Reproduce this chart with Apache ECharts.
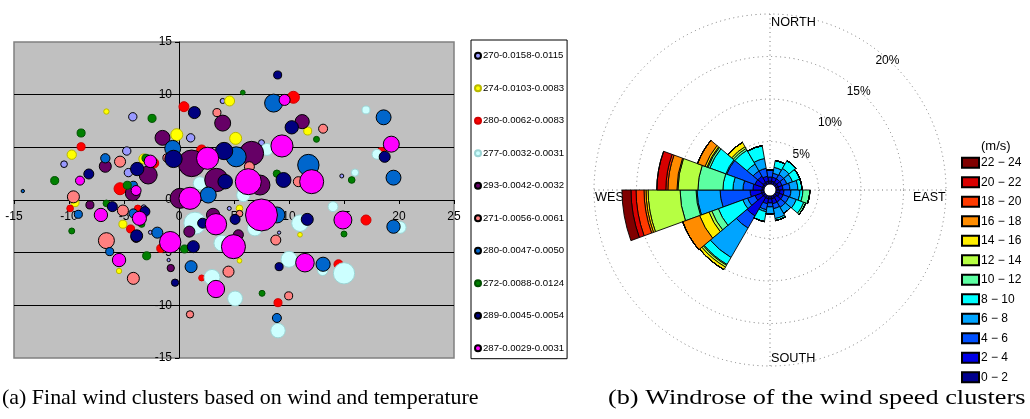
<!DOCTYPE html>
<html><head><meta charset="utf-8">
<script src="https://cdn.jsdelivr.net/npm/echarts@6/dist/echarts.min.js"></script>
<style>html,body{margin:0;padding:0;background:#fff}#c{width:1030px;height:419px}</style>
</head><body><div id="c"></div>
<script>
// ---------- (a) bubble chart data : [x, y, weight] ----------
const clusterNames = ['270-0.0158-0.0115','274-0.0103-0.0083','280-0.0062-0.0083','277-0.0032-0.0031','293-0.0042-0.0032',
  '271-0.0056-0.0061','280-0.0047-0.0050','272-0.0088-0.0124','289-0.0045-0.0054','287-0.0029-0.0031'];
const xTicks = [-15,-10,-5,0,5,10,15,20,25];
const yTicks = [-15,-10,-5,0,5,10,15];
const cluster1 = [[-4.2,7.9,6.3],[3.97,9.4,2.3],[1.06,5.9,6.3],[-10.45,3.4,4],[-4.75,4.65,6.3],[-4.6,2.6,6.3],[7.5,5.44,3.2],[14.8,2.28,1.4],[-3.2,-0.7,2.3],[-2.6,-3.07,1.4],[-0.94,-5.7,1],[4.57,-0.8,1.4],[9.1,-3.1,1]];
const cluster2 = [[-6.6,8.4,2.6],[4.6,9.4,9],[-0.2,6.2,13],[5.15,5.85,13],[-9.75,4.3,7.8],[-3.2,3.9,9],[11.7,6.55,5.8],[-9.45,-0.25,5.8],[-5.1,-2.3,5.8],[-5.45,-6.74,2.6],[11.0,-3.3,2],[5.5,-0.8,4],[5.5,-5.77,2]];
const cluster3 = [[-8.9,5.06,5.8],[0.45,8.86,9],[-2.3,3.5,9],[2.06,4.75,9],[-5.36,1.07,13],[10.4,9.75,13],[-9.9,-0.8,4],[-3.75,-0.8,4],[-4.4,-2.75,5.8],[-1.66,-4.6,5.8],[2.06,-7.4,3.2],[17.0,-1.9,9],[14.5,-6.1,7.3],[9.0,-9.75,5.8],[18.4,4.6,5.8]];
const cluster4 = [[1.9,1.58,16],[17.0,8.55,5.8],[8.0,4.8,13],[18.0,4.34,9],[16.0,2.6,4.8],[5.85,0.47,16],[1.45,-2.2,44],[3.9,-4.1,23],[3.0,-7.35,23],[5.1,-9.35,20],[6.9,-2.7,20],[11.0,-2.2,25],[14.0,-0.63,9],[20.1,-2.6,13],[10.0,-5.63,23],[13.06,-6.7,9],[15.0,-6.96,41],[9.0,-12.4,19]];
const cluster5 = [[3.97,7.3,23],[-1.5,5.9,20],[-6.7,3.2,13],[-2.8,2.37,29],[1.15,3.48,64],[3.4,1.9,49],[-4.2,0.64,20],[0.1,0.16,36],[11.2,7.44,18],[6.6,4.43,52],[7.36,1.42,36],[-8.1,-0.47,5.8],[-3.9,-3.55,9],[0.94,-3.0,11],[-0.75,-6.46,4.8],[3.1,-1.42,16],[5.4,-3.3,9]];
const cluster6 = [[3.45,8.3,5.8],[-5.36,3.64,11],[-1.1,4.0,5.8],[-9.6,0.3,13],[13.1,6.77,7.3],[10.85,1.74,9],[6.4,3.16,9],[-5.1,-1.0,11],[-6.6,-3.86,23],[-4.15,-7.44,13],[1.0,-10.86,4.8],[4.5,-6.8,11],[8.8,-3.8,9],[9.97,-9.1,5.8],[5.5,-1.3,4]];
const cluster7 = [[-14.2,0.85,1],[-6.7,3.96,7.8],[-0.57,4.9,23],[5.2,4.1,36],[-4.15,1.4,5.8],[2.66,0.47,23],[8.6,9.2,29],[18.6,7.85,20],[11.76,3.32,41],[19.5,2.12,20],[-9.15,-1.36,5.8],[-4.15,-1.27,7.3],[-1.97,-3.1,11],[-6.3,-4.9,5.8],[1.1,-6.33,13],[8.9,-1.42,23],[19.5,-2.53,16],[13.1,-6.1,18],[8.9,-11.2,7.3]];
const cluster8 = [[-2.45,7.75,5.8],[-8.9,6.36,5.8],[-11.3,1.84,5.8],[-3.0,3.96,5.8],[-4.7,1.4,5.8],[5.8,10.2,2],[12.5,5.76,3.2],[8.9,2.5,4.8],[15.7,1.9,4],[-9.75,-2.94,3.2],[-6.6,-0.32,4],[-3.4,-2.28,4],[-2.94,-5.3,5.8],[0.5,-4.65,5.8],[15.0,-3.23,3.2],[7.55,-8.86,3.2]];
const cluster9 = [[1.4,8.3,13],[4.1,4.65,27],[4.2,1.74,19],[-8.2,2.47,9],[-3.8,2.94,16],[-0.5,3.9,27],[8.97,11.87,5.8],[10.25,6.9,16],[18.7,4.1,11],[9.5,1.9,20],[-6.06,-0.63,9],[-3.1,-1.1,9],[-3.85,-3.4,13],[-0.36,-7.85,4.8],[1.3,-4.43,13],[2.15,-2.2,9],[5.1,-1.84,9],[11.66,-1.84,13],[9.1,-6.33,5.8]];
const cluster10 = [[-9.0,1.84,7.3],[-2.6,3.67,14],[2.6,3.96,44],[-3.9,0.9,9],[1.0,0.16,44],[9.6,9.5,11],[9.36,5.13,44],[19.3,5.3,23],[12.06,1.74,52],[6.3,1.74,61],[-7.1,-1.42,16],[-3.6,-1.74,18],[-0.8,-4.0,41],[-5.45,-5.7,16],[3.36,-2.3,41],[4.95,-4.43,52],[3.36,-8.45,27],[7.5,-1.42,92],[14.9,-1.9,29],[11.45,-5.95,31]];

// ---------- (b) wind rose data : % frequency per direction sector ----------
const directions = ['0°','20°','40°','60°','80°','100°','120°','140°','160°','180°','200°','220°','240°','260°','280°','300°','320°','340°'];
const speedBins = ['0 − 2','2 − 4','4 − 6','6 − 8','8 − 10','10 − 12','12 − 14','14 − 16','16 − 18','18 − 20','20 − 22','22 − 24'];
const freq0_2   = [0.35,0.35,0.35,0.35,0.35,0.47,0.47,0.35,0.35,0.35,0.35,0.35,0.35,0.35,0.24,0.24,0.35,0.35];
const freq2_4   = [0.47,0.47,0.47,0.47,0.47,0.47,0.47,0.59,0.59,0.47,0.59,2.47,0.82,1.29,1.06,0.94,0.82,0.59];
const freq4_6   = [0.82,0.47,0.59,0.59,0.82,0.82,0.71,0.71,0.59,0.47,0.71,1.65,0.94,3.53,1.18,3.53,0.71,0.94];
const freq6_8   = [0,0.71,0.82,0.71,0.94,1.06,0.94,0.82,1.18,0.82,0.24,4.0,0.59,2.71,1.18,0.12,0.94,1.18];
const freq8_10  = [0,0.82,1.06,0.94,0.47,0.35,0.94,0,0.24,0,1.18,0.94,3.06,0.12,1.18,2.0,1.88,1.53];
const freq10_12 = [0,0,0,0,0,0.82,0.24,0,0,0,0,0.12,0.82,1.88,2.94,0.24,0.24,0];
const freq12_14 = [0,0,0,0,0,0,0,0,0,0,0,0.24,0.35,3.76,2.35,0.12,0.24,0];
const freq14_16 = [0,0,0,0,0,0,0,0,0,0,0,0.35,1.18,0.24,0.12,0.24,0.59,0];
const freq16_18 = [0,0,0,0,0,0,0,0,0,0,0,0,2.12,0.24,1.06,0.94,0,0];
const freq18_20 = [0,0,0,0,0,0,0,0,0,0,0,0,0,0.94,0.24,0,0,0];
const freq20_22 = [0,0,0,0,0,0,0,0,0,0,0,0,0,0.59,1.06,0,0,0];
const freq22_24 = [0,0,0,0,0,0,0,0,0,0,0,0,0,1.06,0,0,0,0];
const pctTicks = [0,5,10,15,20];
const compassLabels = ['NORTH','EAST','SOUTH','WEST'];
const captions = ['(a) Final wind clusters based on wind and temperature','(b) Windrose of the wind speed clusters'];

// ---------- styles ----------
const FONT = 'Liberation Sans, Arial, sans-serif';
const SERIF = 'Liberation Serif, serif';
const clusters = [cluster1,cluster2,cluster3,cluster4,cluster5,cluster6,cluster7,cluster8,cluster9,cluster10];
const clusterColors = ['#9999ff','#ffff00','#ff0000','#ccffff','#660066','#ff8080','#0066cc','#008000','#000080','#ff00ff'];
const clusterBorders = ['#000','#b8b800','#d00000','#9cd4d4','#000','#000','#000','#005000','#000','#000'];
const freqs = [freq0_2,freq2_4,freq4_6,freq6_8,freq8_10,freq10_12,freq12_14,freq14_16,freq16_18,freq18_20,freq20_22,freq22_24];
const binColors = ['#00008f','#0000e6','#0050ff','#00a4ff','#00ffff','#5cffa2','#b6ff42','#ffee00','#ff8c00','#ff3a00','#d80000','#800000'];

const RC = [770,190], RR = [6,176];
const G = {left:14, top:42, width:440, height:316};

const series = [];
clusters.forEach((d,i)=>{
  series.push({
    type:'scatter', name: clusterNames[i], xAxisIndex:0, yAxisIndex:0, data:d,
    symbolSize: v => Math.sqrt(v[2])*10/3,
    itemStyle:{color:clusterColors[i], borderColor:clusterBorders[i], borderWidth:1, opacity:1},
    emphasis:{disabled:true}, clip:false
  });
});
freqs.forEach((f,i)=>{
  series.push({
    type:'bar', name: speedBins[i], coordinateSystem:'polar', polarIndex:0, stack:'wind', data:f,
    barCategoryGap:'0%',
    itemStyle:{color:binColors[i], borderColor:'#000', borderWidth:0.9},
    emphasis:{disabled:true}
  });
});

const xMin = xTicks[0], xMax = xTicks[xTicks.length-1], yMin = yTicks[0], yMax = yTicks[yTicks.length-1];
// move the axes so that they cross at the origin (Excel style)
const yAxisOffset = -G.width * (0 - xMin) / (xMax - xMin);
const xAxisOffset = -G.height * (0 - yMin) / (yMax - yMin);

const chart = echarts.init(document.getElementById('c'), null, {renderer:'canvas'});
chart.setOption({
  animation:false,
  textStyle:{fontFamily:FONT},
  title:[
    {text:'(m/s)', left:976, top:135, textStyle:{fontFamily:FONT, fontSize:13, fontWeight:'normal', color:'#000'}}
  ],
  grid:{left:G.left, top:G.top, width:G.width, height:G.height, outerBoundsMode:'none', containLabel:false,
    show:true, backgroundColor:'#c0c0c0', borderColor:'#808080', borderWidth:1.5},
  xAxis:{type:'value', min:xMin, max:xMax, interval:5, position:'bottom', offset:xAxisOffset,
    axisLine:{onZero:false, lineStyle:{color:'#000', width:1}},
    axisTick:{show:true, length:4, lineStyle:{color:'#000'}},
    axisLabel:{color:'#000', fontSize:12, margin:11, fontFamily:FONT},
    splitLine:{show:false}},
  yAxis:{type:'value', min:yMin, max:yMax, interval:5, position:'left', offset:yAxisOffset,
    axisLine:{onZero:false, lineStyle:{color:'#000', width:1}},
    axisTick:{show:true, length:4, lineStyle:{color:'#000'}},
    axisLabel:{color:'#000', fontSize:12, margin:7, fontFamily:FONT},
    splitLine:{show:true, showMinLine:false, showMaxLine:false, lineStyle:{color:'#000', width:1}}},
  polar:[
    {center:RC, radius:RR},
    {center:RC, radius:RR},
    {center:RC, radius:RR}
  ],
  angleAxis:[
    {polarIndex:0, type:'category', data:directions, startAngle:100, clockwise:true, boundaryGap:true,
     axisLine:{show:false}, axisTick:{show:false}, axisLabel:{show:false}, splitLine:{show:false}},
    {polarIndex:1, type:'value', min:0, max:360, interval:90, startAngle:90, clockwise:true,
     axisLine:{show:false}, axisTick:{show:false}, axisLabel:{show:false},
     splitLine:{show:true, lineStyle:{color:'#777', width:1, type:[1,3.5]}}},
    {polarIndex:2, type:'value', min:0, max:360, startAngle:47.5, clockwise:true,
     axisLine:{show:false}, axisTick:{show:false}, axisLabel:{show:false}, splitLine:{show:false}}
  ],
  radiusAxis:[
    {polarIndex:0, type:'value', min:pctTicks[0], max:pctTicks[pctTicks.length-1], interval:5,
     axisLine:{show:false}, axisTick:{show:false}, axisLabel:{show:false},
     splitLine:{show:true, lineStyle:{color:'#777', width:1, type:[1,3.5]}}},
    {polarIndex:1, type:'value', min:0, max:20, show:false},
    {polarIndex:2, type:'value', min:pctTicks[0], max:pctTicks[pctTicks.length-1], interval:5, z:10,
     axisLine:{show:false}, axisTick:{show:false}, splitLine:{show:false},
     axisLabel:{show:true, margin:0, rotate:0, align:'center', verticalAlign:'middle', color:'#000', fontSize:12, fontFamily:FONT,
       padding:[9,3,0,0],
       formatter: v => v===0 ? '' : v + '%'}}
  ],
  legend:[
    {data:clusterNames, orient:'vertical', left:471, top:40, icon:'circle', itemWidth:6, itemHeight:6,
     itemGap:20.5, padding:[9.7,3,4.5,3], borderColor:'#000', borderWidth:1, backgroundColor:'#fff',
     selectedMode:false, textStyle:{fontSize:9.6, lineHeight:12, color:'#000', fontFamily:FONT, padding:[0,0,0,-3]}},
    {data:speedBins.slice().reverse(), orient:'vertical', left:961, top:156.7, icon:'rect', itemWidth:17, itemHeight:10,
     itemGap:7.5, padding:0, selectedMode:false,
     textStyle:{fontSize:12, lineHeight:10, color:'#000', fontFamily:FONT, padding:[0,0,0,-3]}}
  ],
  graphic:[
    {type:'text', left:RC[0]+1, top:RC[1]-RR[1]+2, style:{text:compassLabels[0], font:'12.7px '+FONT, fill:'#000'}},
    {type:'text', left:RC[0]+RR[1]-33, top:RC[1]+1, style:{text:compassLabels[1], font:'12.5px '+FONT, fill:'#000'}},
    {type:'text', left:RC[0]+1, top:RC[1]+RR[1]-14, style:{text:compassLabels[2], font:'12.7px '+FONT, fill:'#000'}},
    {type:'text', left:RC[0]-RR[1]+1, top:RC[1]+1, style:{text:compassLabels[3], font:'12.7px '+FONT, fill:'#000'}},
    {type:'text', x:2, y:388, scaleX:1.045, style:{text:captions[0], font:'21px '+SERIF, fill:'#000'}},
    {type:'text', x:608, y:388, scaleX:1.25, style:{text:captions[1], font:'21px '+SERIF, fill:'#000'}}
  ],
  series
});
</script></body></html>
